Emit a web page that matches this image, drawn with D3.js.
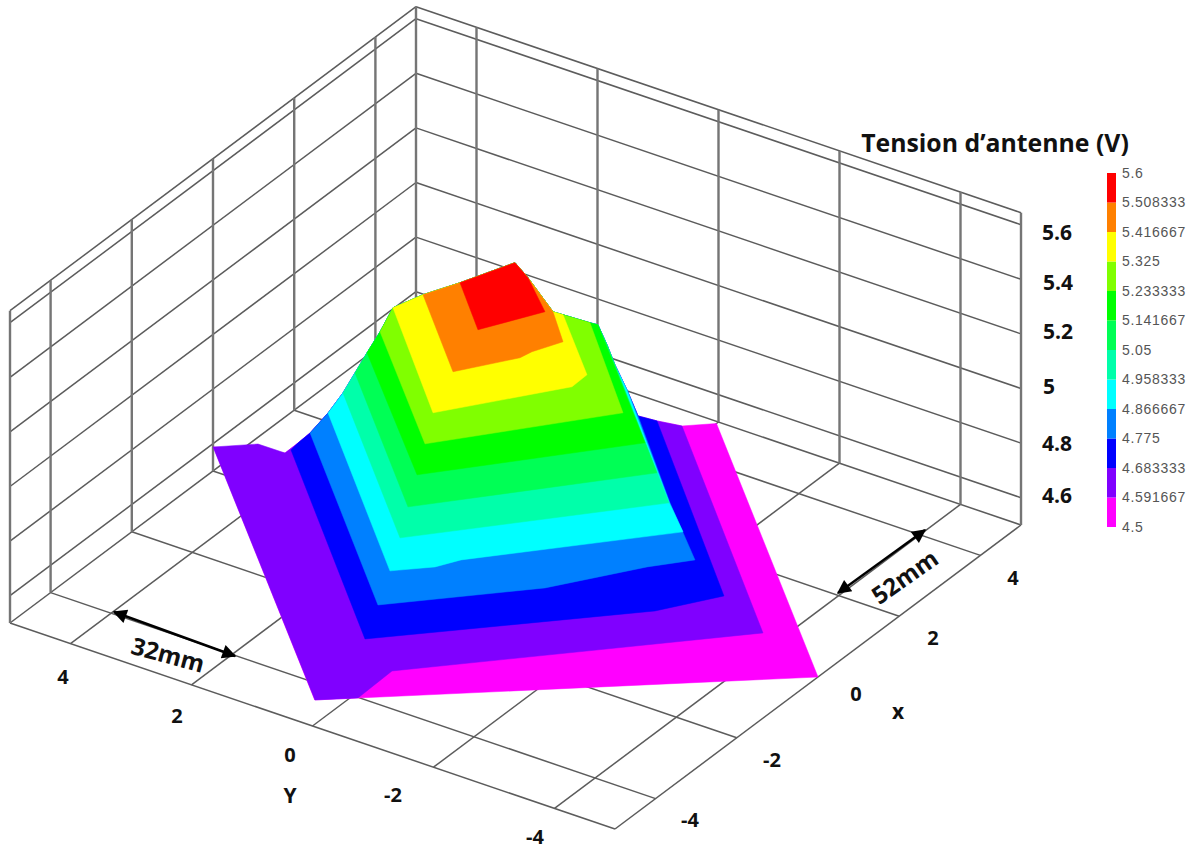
<!DOCTYPE html>
<html><head><meta charset="utf-8">
<style>html,body{margin:0;padding:0;background:#fff}svg{display:block}</style>
<script src="https://cdn.jsdelivr.net/npm/d3@7"></script></head>
<body><svg id="c" width="1195" height="852"></svg>
<script>
// ---- data -----
const xTicks=[-4,-2,0,2,4];
const yTicks=[4,2,0,-2,-4];
const zTicks=[4.6,4.8,5,5.2,5.4,5.6];
const legendLabels=["5.6","5.508333","5.416667","5.325","5.233333","5.141667","5.05","4.958333","4.866667","4.775","4.683333","4.591667","4.5"];
const bandColors=["#ff00ff","#8000ff","#0000ff","#0080ff","#00ffff","#00ffaa","#00ff55","#00ff00","#80ff00","#ffff00","#ff8000","#ff0000"];
const levels=[4.5,4.591667,4.683333,4.775,4.866667,4.958333,5.05,5.141667,5.233333,5.325,5.416667,5.508333,5.6];
// iso-level lines of the surface: [x, Y] along each line
const baseEdge=[[-.02,4.98,4.5917],[-4.96,-.01,4.5917],[.0,-5,4.5],[4.95,0,4.5]];
const iso4592=[[.396,4.075],[.391,4.518],[-.023,4.983],[-4.958,-.013],[-4.582,-.471],[-3.709,-.448],[.007,-4.086],[4.063,-.025]];
const iso4683=[[.156,3.70],[-.056,3.673],[-3.759,-.035],[-.893,-2.905],[-.023,-3.461],[3.419,-.044]];
const iso4775=[[-.09,3.335],[-3.456,-.046],[-1.785,-1.685],[-.524,-2.526],[.003,-2.964],[1.1,-1.816],[2.82,-.133]];
const iso4867=[[-.065,3.055],[-3.159,-.045],[-2.723,-.497],[-2.364,-.686],[-.021,-2.783],[.53,-2.189],[2.758,.007]];
const iso4958=[[-.062,2.81],[-2.901,-.038],[-.039,-2.563],[2.665,.144]];
const iso5050=[[-.083,2.597],[-2.705,-.038],[-.018,-2.35],[2.491,.159]];
const iso5142=[[-.103,2.385],[-2.476,-.034],[.002,-2.138],[2.308,.186]];
const iso5233=[[-.093,2.176],[-2.28,-.034],[-.054,-1.813],[1.727,-.072]];
const iso5325=[[-.016,2.014],[-2.082,-.034],[-.424,-1.218],[-.037,-1.206],[1.135,-.024]];
const iso5417=[[-.056,1.491],[-1.566,-.018],[-.734,-.567],[-.506,-.612],[-.041,-.813],[.56,-.244]];
const iso5508=[[-.065,.873],[-.99,-.044],[-.067,-.532],[.571,.177]];
const peak=[.245,.173,5.6];
const isoLines=[iso4592,iso4683,iso4775,iso4867,iso4958,iso5050,iso5142,iso5233,iso5325,iso5417,iso5508];
const isoLevels=levels.slice(1,12);

// ---- oblique projection built from linear scales -----
const ox=515.5, oy=574;
const xH=d3.scaleLinear().domain([-5,5]).range([-203,203]);
const xV=d3.scaleLinear().domain([-5,5]).range([152,-152]);
const yH=d3.scaleLinear().domain([-5,5]).range([302.5,-302.5]);
const yV=d3.scaleLinear().domain([-5,5]).range([103,-103]);
const zV=d3.scaleLinear().domain([4.5,5.644]).range([0,-312.3]);
const P=(x,y,z)=>[ox+xH(x)+yH(y), oy+xV(x)+yV(y)+zV(z)];

const svg=d3.select("#c");
const defs=svg.append("defs");
defs.append("filter").attr("id","soft").append("feGaussianBlur").attr("stdDeviation",.45);
const line=d3.line();
const gGrid=svg.append("g").attr("fill","none").attr("stroke","#5c5c5c").attr("stroke-linejoin","round").attr("filter","url(#soft)");
function seg(a,b,w,c){gGrid.append("path").attr("d",line([P(...a),P(...b)])).attr("stroke-width",w).attr("stroke",c||null);}
const zMin=4.5,zMax=5.644,lo=-5,hi=5;
// floor
[lo,...xTicks,hi].forEach(x=>seg([x,lo,zMin],[x,hi,zMin],1.5));
[lo,...yTicks,hi].forEach(y=>seg([lo,y,zMin],[hi,y,zMin],1.5));
// walls: horizontal lines
[...zTicks,zMax].forEach(z=>{seg([lo,hi,z],[hi,hi,z],1.5);seg([hi,hi,z],[hi,lo,z],1.5);});
// walls: vertical lines
[lo,...xTicks,hi].forEach(x=>seg([x,hi,zMin],[x,hi,zMax],2.4,"#747474"));
[...yTicks,lo].forEach(y=>seg([hi,y,zMin],[hi,y,zMax],2.4,"#747474"));

// ---- surface: painted from low to high -----
const gS=svg.append("g").attr("stroke-width",.5);
const withZ=(line,z)=>line.map(p=>[p[0],p[1],z]);
const lines3=isoLines.map((l,i)=>withZ(l,isoLevels[i]));
const rightEnds=i=>lines3.slice(i+1).map(l=>l[l.length-1]);
const leftEnds=i=>lines3.slice(i+1).map(l=>l[0]).reverse();
const region=(first,i)=>[...first,...rightEnds(i),peak,...leftEnds(i)];
const poly=(pts,color)=>gS.append("path").attr("d",line(pts.map(p=>P(...p)))+"Z").attr("fill",color).attr("stroke",color);
poly(region(baseEdge,-1),bandColors[0]);
lines3.forEach((l,i)=>poly(region(l,i),bandColors[i+1]));

// ---- text -----
const font="'Open Sans',sans-serif";
const label=(t,x,y,size,anchor)=>svg.append("text").text(t).attr("x",x).attr("y",y).attr("dy",2).attr("font-family",font).attr("font-weight",700).attr("font-size",size).attr("fill","#111").attr("text-anchor",anchor||"middle").attr("dominant-baseline","middle");
const xLabelPos=[[690,820],[772,760],[856,694],[933,638],[1013,578]];
xTicks.forEach((t,i)=>label(String(t),xLabelPos[i][0],xLabelPos[i][1],20));
const yLabelPos=[[63,677],[177,716],[290,755],[393,795],[535,837]];
yTicks.forEach((t,i)=>label(String(t),yLabelPos[i][0],yLabelPos[i][1],20));
const zLabelPos=[[1042,495],[1042,443],[1043,386],[1043,331],[1043,282],[1042,232]];
zTicks.forEach((t,i)=>label(d3.format("~g")(t),zLabelPos[i][0],zLabelPos[i][1],21,"start"));
label("x",898,711,21);
label("Y",290,795,21);
label("Tension d’antenne (V)",995,143,24.8);

// ---- legend -----
const legendY=d3.scaleLinear().domain([5.6,4.5]).range([173,527]);
const gL=svg.append("g");
bandColors.forEach((c,i)=>gL.append("rect").attr("x",1107).attr("width",9)
  .attr("y",legendY(levels[i+1])).attr("height",legendY(levels[i])-legendY(levels[i+1])).attr("fill",c));
legendLabels.forEach(t=>gL.append("text").text(t).attr("x",1122).attr("y",legendY(+t)).attr("dy",1).attr("dominant-baseline","middle")
  .attr("font-family","'Liberation Sans',Arial,sans-serif").attr("font-size",14).attr("letter-spacing",.7).attr("fill","#555"));

// ---- dimension arrows -----
defs.append("marker").attr("id","ah").attr("viewBox","0 0 10 10").attr("refX",9).attr("refY",5)
 .attr("markerWidth",17).attr("markerHeight",14).attr("markerUnits","userSpaceOnUse").attr("orient","auto-start-reverse")
 .append("path").attr("d","M0 0L10 5L0 10Z").attr("fill","#000");
const arrow=(a,b)=>svg.append("line").attr("x1",a[0]).attr("y1",a[1]).attr("x2",b[0]).attr("y2",b[1]).attr("stroke","#000").attr("stroke-width",2.4)
 .attr("marker-start","url(#ah)").attr("marker-end","url(#ah)");
arrow([114,612],[235,656]);
arrow([838,593],[925,530]);
const rot=(t,x,y,a)=>label(t,x,y,24).attr("transform",`rotate(${a} ${x} ${y})`);
rot("32mm",168,655,15);
rot("52mm",905,577,-35);
</script></body></html>
